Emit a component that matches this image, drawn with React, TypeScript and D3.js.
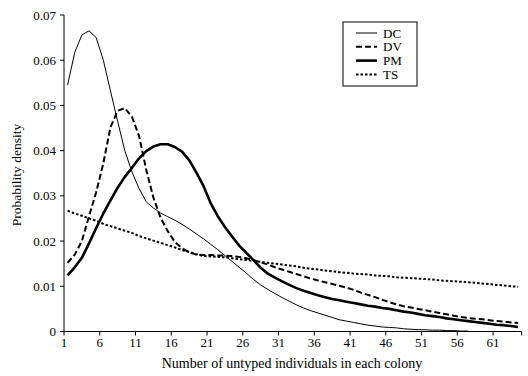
import React from "react";
import * as d3 from "d3";

const categories: number[] = d3.range(1, 65);
const tickLabels: number[] = [1, 6, 11, 16, 21, 26, 31, 36, 41, 46, 51, 56, 61];
const yTicks: number[] = [0, 0.01, 0.02, 0.03, 0.04, 0.05, 0.06, 0.07];

const dcValues: number[] = [
  0.0545, 0.0617, 0.0656, 0.0665, 0.065, 0.06, 0.0532, 0.0465, 0.04, 0.0353,
  0.0316, 0.0287, 0.0273, 0.0262, 0.0254, 0.0246, 0.0237, 0.0227, 0.0216, 0.0205,
  0.0193, 0.0181, 0.0168, 0.0155, 0.0142, 0.0129, 0.0115, 0.0103, 0.0093, 0.0084,
  0.0075, 0.0067, 0.0059, 0.0052, 0.0046, 0.0041, 0.0036, 0.0031, 0.0026, 0.0023,
  0.002, 0.0017, 0.0014, 0.0012, 0.001, 0.0009, 0.0008, 0.0006, 0.0005, 0.0004,
  0.0004, 0.0003, 0.0003, 0.0002, 0.0002, 0.0001, 0.0001,
];
const dvValues: number[] = [
  0.0152, 0.017, 0.02, 0.0255, 0.0308, 0.0372, 0.0452, 0.0488, 0.0494, 0.0475,
  0.0432, 0.0358, 0.0296, 0.0252, 0.0222, 0.0198, 0.0184, 0.0175, 0.017, 0.0169,
  0.0169, 0.0168, 0.0168, 0.0167, 0.0165, 0.0162, 0.0158, 0.0153, 0.0148, 0.0142,
  0.0137, 0.0132, 0.0127, 0.0122, 0.0117, 0.0113, 0.0109, 0.0105, 0.0101, 0.0097,
  0.0092, 0.0086, 0.0081, 0.0076, 0.007, 0.0065, 0.006, 0.0056, 0.0053, 0.005,
  0.0047, 0.0044, 0.0041, 0.0038, 0.0035, 0.0032, 0.003, 0.0028, 0.0027, 0.0025,
  0.0023, 0.0022, 0.002, 0.0019,
];
const pmValues: number[] = [
  0.0124, 0.0142, 0.0163, 0.0195, 0.0229, 0.0261, 0.029, 0.0318, 0.0342, 0.0362,
  0.0383, 0.0399, 0.0409, 0.0414, 0.0414, 0.0408, 0.0398, 0.0379, 0.0352, 0.0322,
  0.0284, 0.0255, 0.0231, 0.021, 0.019, 0.0174, 0.0158, 0.0141, 0.0128, 0.0119,
  0.0111, 0.0103, 0.0096, 0.009, 0.0085, 0.008, 0.0076, 0.0072, 0.0069, 0.0066,
  0.0063, 0.006, 0.0057, 0.0055, 0.0052, 0.005, 0.0047, 0.0044, 0.0042, 0.0039,
  0.0036, 0.0034, 0.0032, 0.0029, 0.0027, 0.0025, 0.0023, 0.0021, 0.0019, 0.0017,
  0.0015, 0.0014, 0.0012, 0.001,
];
const tsValues: number[] = [
  0.0267, 0.0261, 0.0256, 0.025, 0.0245, 0.0238, 0.0233, 0.0228, 0.0223, 0.0218,
  0.0211, 0.0206, 0.0201, 0.0196, 0.0191, 0.0186, 0.018, 0.0176, 0.0171, 0.0167,
  0.0166, 0.0165, 0.0164, 0.0162, 0.016, 0.0158, 0.0156, 0.0154, 0.0152, 0.015,
  0.0148, 0.0146, 0.0144, 0.0141, 0.0139, 0.0137, 0.0135, 0.0133, 0.0131, 0.013,
  0.0128, 0.0127, 0.0126, 0.0124, 0.0123, 0.0122, 0.012, 0.0119, 0.0118, 0.0117,
  0.0116, 0.0115, 0.0113, 0.0112, 0.0111, 0.011, 0.0109, 0.0108, 0.0106, 0.0105,
  0.0103, 0.0102, 0.01, 0.0099,
];

const seriesNames = ["DC", "DV", "PM", "TS"];

const W = 528;
const H = 376;
const FONT = "'Liberation Serif', 'DejaVu Serif', serif";

const styles: Record<string, { width: number; dash: string | undefined }> = {
  DC: { width: 1, dash: undefined },
  DV: { width: 2, dash: "6,3" },
  PM: { width: 2.6, dash: undefined },
  TS: { width: 2, dash: "2.5,2" },
};

export default function App() {
  const x = d3.scaleLinear().domain([0, categories.length]).range([64, 521.7]);
  const y = d3.scaleLinear().domain([0, 0.07]).range([331.5, 15]);

  const line = d3
    .line<[number, number]>()
    .x((d) => x(d[0] - 0.5))
    .y((d) => y(d[1]));

  const dataMap: Record<string, number[]> = {
    DC: dcValues,
    DV: dvValues,
    PM: pmValues,
    TS: tsValues,
  };

  const paths = seriesNames.map((name) => {
    const vals = dataMap[name];
    const pts: [number, number][] = vals.map((v, i) => [categories[i], v]);
    return { name, d: line(pts) || "" };
  });

  const legendX = 343;
  const legendY = 22;
  const legendW = 74;
  const legendH = 64;

  return (
    <svg
      width={W}
      height={H}
      style={{ position: "absolute", left: 0, top: 0, background: "#fff" }}
      fontFamily={FONT}
    >
      <rect x={0} y={0} width={W} height={H} fill="#fff" />
      {/* axes */}
      <line x1={64} y1={y(0.07)} x2={64} y2={y(0)} stroke="#000" strokeWidth={1} />
      <line x1={64} y1={y(0)} x2={x(categories.length)} y2={y(0)} stroke="#000" strokeWidth={1} />
      {yTicks.map((t) => (
        <g key={"y" + t}>
          <line x1={60} x2={64} y1={y(t)} y2={y(t)} stroke="#000" />
          <text
            x={56}
            y={y(t)}
            textAnchor="end"
            dominantBaseline="central"
            fontSize={13}
            fill="#000"
          >
            {t === 0 ? "0" : t.toFixed(2)}
          </text>
        </g>
      ))}
      {tickLabels.map((t) => (
        <g key={"x" + t}>
          <line x1={x(t - 1)} x2={x(t - 1)} y1={y(0)} y2={y(0) + 4} stroke="#000" />
          <text x={x(t - 1)} y={347} textAnchor="middle" fontSize={13} fill="#000">
            {t}
          </text>
        </g>
      ))}
      <line
        x1={x(categories.length)}
        x2={x(categories.length)}
        y1={y(0)}
        y2={y(0) + 4}
        stroke="#000"
      />
      {/* series */}
      {paths.map((p) => (
        <path
          key={p.name}
          d={p.d}
          fill="none"
          stroke="#000"
          strokeWidth={styles[p.name].width}
          strokeDasharray={styles[p.name].dash}
          strokeLinejoin="round"
        />
      ))}
      {/* axis titles */}
      <text x={292} y={368} textAnchor="middle" fontSize={14} fill="#000">
        Number of untyped individuals in each colony
      </text>
      <text
        transform={`translate(21,175) rotate(-90)`}
        textAnchor="middle"
        fontSize={13.5}
        fill="#000"
      >
        Probability density
      </text>
      {/* legend */}
      <rect
        x={legendX}
        y={legendY}
        width={legendW}
        height={legendH}
        fill="#fff"
        stroke="#000"
        strokeWidth={1}
      />
      {seriesNames.map((name, i) => {
        const cy = legendY + 11 + i * 13.8;
        return (
          <g key={"lg" + name}>
            <line
              x1={356}
              x2={377}
              y1={cy}
              y2={cy}
              stroke="#000"
              strokeWidth={styles[name].width}
              strokeDasharray={styles[name].dash}
            />
            <text x={383} y={cy} dominantBaseline="central" fontSize={13} fill="#000">
              {name}
            </text>
          </g>
        );
      })}
    </svg>
  );
}
